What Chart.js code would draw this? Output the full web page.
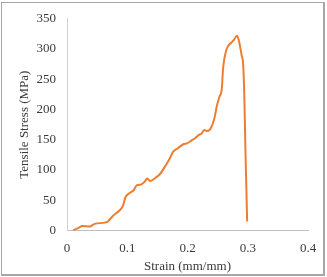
<!DOCTYPE html>
<html>
<head>
<meta charset="utf-8">
<script src="https://cdn.jsdelivr.net/npm/chart.js@4"></script>
<style>
html, body { margin: 0; padding: 0; background: #fff; }
#wrap { position: relative; width: 327px; height: 277px; }
#frame { position: absolute; left: 1px; top: 2px; width: 321px; height: 271px; border: 1px solid #a6a6a6; border-bottom-width: 2px; border-right-width: 2px; pointer-events: none; }
</style>
</head>
<body>
<div id="wrap">
<canvas id="stressChart" width="327" height="277"></canvas>
<div id="frame"></div>
</div>
<script>
// strain (mm/mm) / tensile stress (MPa)
var strain = [0.010, 0.018, 0.026, 0.0375, 0.046, 0.0625, 0.068, 0.076, 0.087, 0.093, 0.097, 0.104, 0.111, 0.116, 0.123, 0.129, 0.133, 0.138, 0.148, 0.154, 0.164, 0.171, 0.176, 0.184, 0.194, 0.199, 0.207, 0.212, 0.219, 0.223, 0.228, 0.233, 0.238, 0.244, 0.249, 0.253, 0.257, 0.259, 0.265, 0.272, 0.277, 0.282, 0.285, 0.290, 0.2925, 0.2945, 0.296, 0.2972, 0.299];
var stress = [0, 4, 7.5, 6.5, 11, 13, 15, 24, 33, 41, 55, 62, 67, 75, 76, 81, 86, 82, 88, 93, 108, 120, 130, 136, 143, 144, 149, 152, 158, 160, 166, 164.5, 168, 183, 207, 221, 235, 267, 300, 310, 315, 322, 315, 289, 273, 215, 140, 90, 15];

var xTicks = [0, 0.1, 0.2, 0.3, 0.4];
var yTicks = [0, 50, 100, 150, 200, 250, 300, 350];

var points = [];
for (var i = 0; i < strain.length; i++) {
	points.push({x: strain[i], y: stress[i]});
}

var textColor = '#3a3a3a';
var tickFont = {family: '"Liberation Serif", "Times New Roman", serif', size: 13};

var ctx = document.getElementById('stressChart').getContext('2d');
var stressChart = new Chart(ctx, {
	type: 'scatter',
	data: {
		datasets: [{
			data: points,
			showLine: true,
			borderColor: '#ED7D31',
			borderWidth: 2,
			pointRadius: 0,
			tension: 0.4,
			cubicInterpolationMode: 'monotone'
		}]
	},
	options: {
		responsive: false,
		animation: false,
		layout: {padding: {left: 0, top: 15, right: 19, bottom: 0}},
		plugins: {legend: {display: false}, tooltip: {enabled: false}},
		scales: {
			x: {
				type: 'linear',
				min: 0,
				max: 0.4,
				afterBuildTicks: function(s) { s.ticks = xTicks.map(v => ({value: v})); },
				afterFit: function(s) { s.height = 46.5; },
				grid: {display: false, drawTicks: false},
				border: {color: '#bfbfbf', width: 1},
				ticks: {color: textColor, font: tickFont, padding: 10, maxRotation: 0},
				title: {display: true, text: 'Strain (mm/mm)', color: textColor, font: tickFont, padding: {top: 0, bottom: 3}}
			},
			y: {
				min: 0,
				max: 350,
				afterBuildTicks: function(s) { s.ticks = yTicks.map(v => ({value: v})); },
				afterFit: function(s) { s.width = 67; },
				grid: {display: false, drawTicks: false},
				border: {color: '#d0d0d0', width: 1},
				ticks: {color: textColor, font: tickFont, padding: 11},
				title: {display: true, text: 'Tensile Stress (MPa)', color: textColor, font: tickFont, padding: {top: 17, bottom: 0}}
			}
		}
	}
});
</script>
</body>
</html>
